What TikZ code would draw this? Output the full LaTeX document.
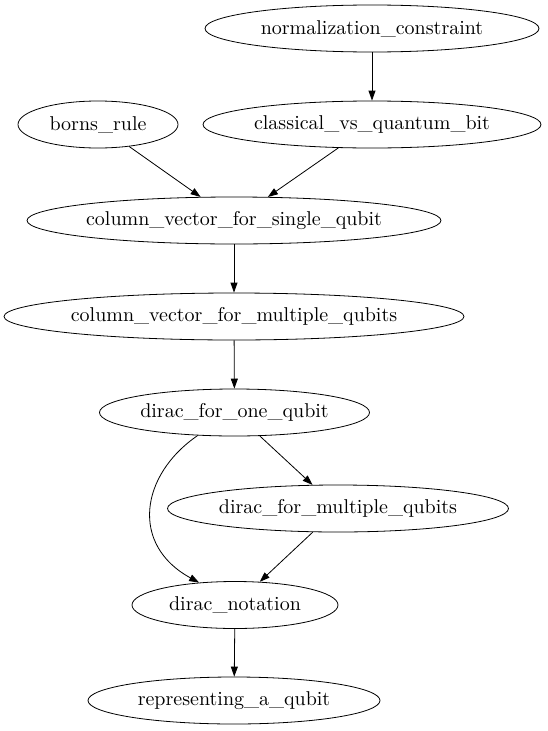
\documentclass[tikz,border=0pt]{standalone}
\usepackage{fontspec}
\setmainfont{lmroman10-regular.otf}
\usetikzlibrary{shapes.geometric,arrows.meta}

\begin{document}
\begin{tikzpicture}[x=1pt, y=-1pt, font=\fontsize{20}{24}\selectfont,
  topic/.style={draw, ellipse, inner xsep=-90pt, inner ysep=0pt, minimum height=47pt, line width=0.8pt},
  flow/.style={-{Triangle[length=10pt, width=7pt]}, line width=0.8pt}]
  \useasboundingbox (0,0) rectangle (547,731);
  \node[topic, minimum width=334pt] (norm) at (372,28.5) {normalization\_constraint};
  \node[topic, minimum width=160pt] (born) at (98,124.5) {borns\_rule};
  \node[topic, minimum width=338pt] (classical) at (372,124.5) {classical\_vs\_quantum\_bit};
  \node[topic, minimum width=414pt] (single) at (234,220.5) {column\_vector\_for\_single\_qubit};
  \node[topic, minimum width=460pt] (multiple) at (234,316.5) {column\_vector\_for\_multiple\_qubits};
  \node[topic, minimum width=270pt] (diracone) at (234.5,412.5) {dirac\_for\_one\_qubit};
  \node[topic, minimum width=341pt] (diracmulti) at (338,508.5) {dirac\_for\_multiple\_qubits};
  \node[topic, minimum width=206pt] (notation) at (235,605) {dirac\_notation};
  \node[topic, minimum width=292pt] (qubit) at (234,700.5) {representing\_a\_qubit};
  \draw[flow] (norm) -- (classical);
  \draw[flow] (born) -- (single);
  \draw[flow] (classical) -- (single);
  \draw[flow] (single) -- (multiple);
  \draw[flow] (multiple) -- (diracone);
  \draw[flow] (diracone) -- (diracmulti);
  \draw[flow] (diracone.212) .. controls (140,475) and (130,545) .. (notation.148);
  \draw[flow] (diracmulti) -- (notation);
  \draw[flow] (notation) -- (qubit);
\end{tikzpicture}
\end{document}
